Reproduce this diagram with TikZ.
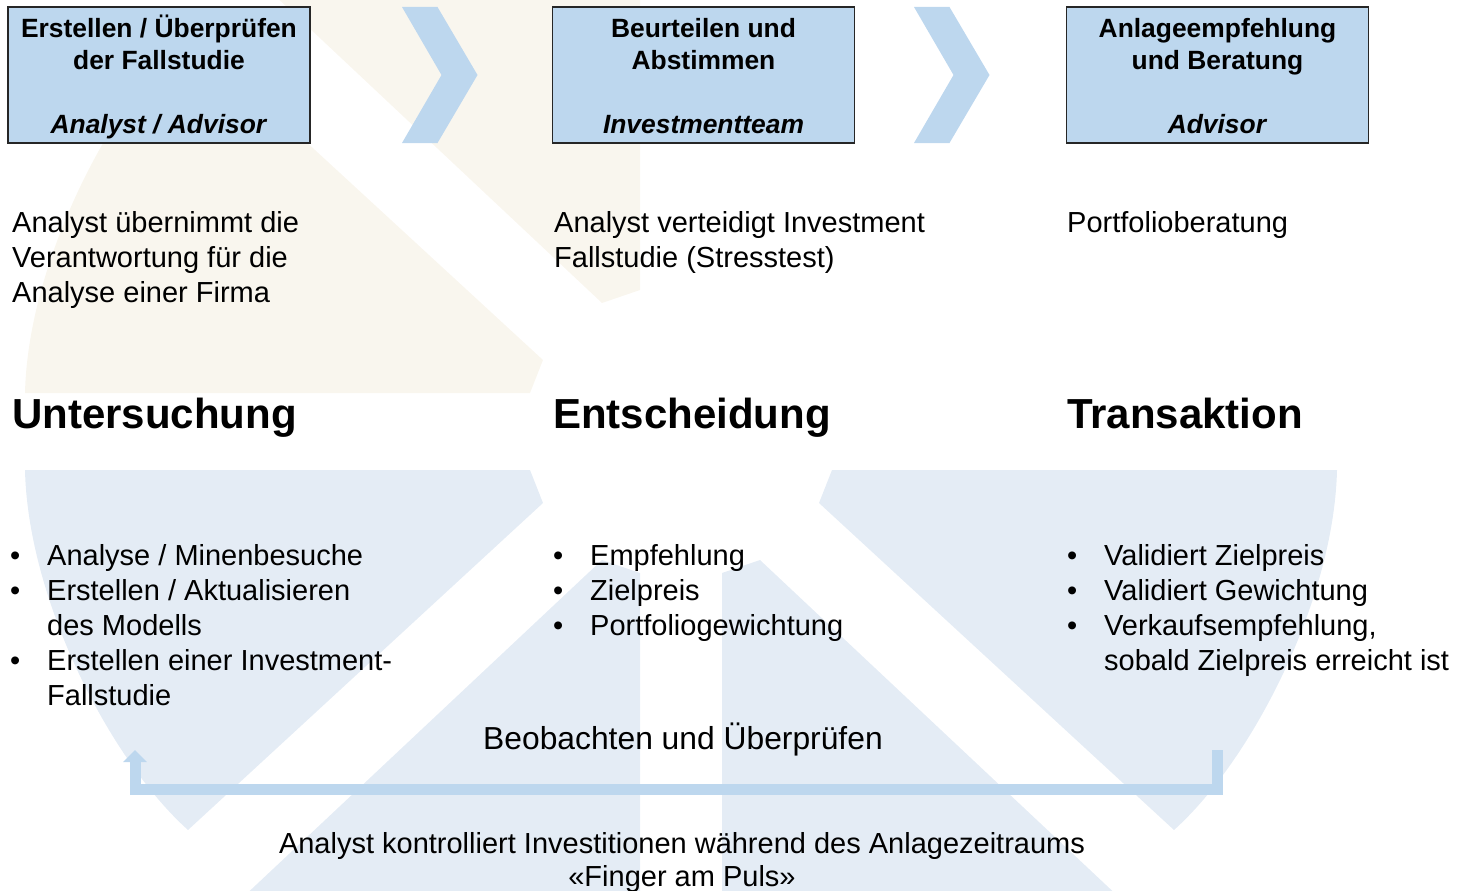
\documentclass[tikz,border=0pt]{standalone}
\usepackage{fontspec}
\setmainfont{Liberation Sans}
\usetikzlibrary{arrows.meta}
\definecolor{boxblue}{RGB}{189,215,238}
\definecolor{wmblue}{RGB}{228,236,245}
\definecolor{wmbeige}{RGB}{249,246,238}

\begin{document}
\begin{tikzpicture}[x=1pt, y=-1pt,
    phasebox/.style={draw=black!85, line width=1.3pt, fill=boxblue, minimum width=302pt, minimum height=136pt, inner sep=0pt},
    boxtitle/.style={anchor=base, inner sep=0pt, font=\fontsize{26.4}{32}\selectfont\bfseries},
    body/.style={anchor=base west, inner sep=0pt, font=\fontsize{29}{35}\selectfont},
    head/.style={anchor=base west, inner sep=0pt, font=\fontsize{42}{50}\selectfont\bfseries},
    midtext/.style={anchor=base, inner sep=0pt, font=\fontsize{31.8}{38}\selectfont},
    note/.style={anchor=base, inner sep=0pt, font=\fontsize{29}{33.5}\selectfont},
    chev/.style={fill=boxblue},
    backline/.style={draw=boxblue, line width=11pt, -{Triangle[width=23pt,length=12pt]}}]
    \useasboundingbox (0,0) rectangle (1457,891);

    % watermark
    \begin{scope}
      \clip (0,0) rectangle (1457,891);
      \fill[wmbeige] (25,393) -- (530,393) -- (543,360) -- (188,33) .. controls (110,103) and (28,263) .. (25,393) -- cycle;
      \fill[wmbeige] (640,290) -- (602,303) -- (240,-37) -- (640,-37) -- cycle;
      \fill[wmblue] (25,470) -- (530,470) -- (543,503) -- (188,830) .. controls (110,760) and (28,600) .. (25,470) -- cycle;
      \fill[wmblue] (1337,470) -- (832,470) -- (819,503) -- (1174,830) .. controls (1252,760) and (1334,600) .. (1337,470) -- cycle;
      \fill[wmblue] (640,573) -- (602,560) -- (240,900) -- (640,900) -- cycle;
      \fill[wmblue] (722,573) -- (760,560) -- (1122,900) -- (722,900) -- cycle;
    \end{scope}

    \foreach \cx in {402,914}
      \fill[chev] (\cx,7) -- ++(35.5,0) -- ++(40,68) -- ++(-40,68) -- ++(-35.5,0) -- ++(39.5,-68) -- cycle;

    \node[phasebox] (box1) at (159,75) {};
    \node[phasebox] (box2) at (703.5,75) {};
    \node[phasebox] (box3) at (1217.5,75) {};

    \node[boxtitle] (title1) at ([yshift=-31pt]box1.north) {\begin{tabular}[t]{@{}c@{}}Erstellen / Überprüfen\\der Fallstudie\\ \\\textit{Analyst / Advisor}\end{tabular}};
    \node[boxtitle] (title2) at ([yshift=-31pt]box2.north) {\begin{tabular}[t]{@{}c@{}}Beurteilen und\\Abstimmen\\ \\\textit{Investmentteam}\end{tabular}};
    \node[boxtitle] (title3) at ([yshift=-31pt]box3.north) {\begin{tabular}[t]{@{}c@{}}Anlageempfehlung\\und Beratung\\ \\\textit{Advisor}\end{tabular}};

    \node[body] (role1) at (12,232) {\begin{tabular}[t]{@{}l@{}}Analyst übernimmt die\\Verantwortung für die\\Analyse einer Firma\end{tabular}};
    \node[body] (role2) at (554,232) {\begin{tabular}[t]{@{}l@{}}Analyst verteidigt Investment\\Fallstudie (Stresstest)\end{tabular}};
    \node[body] (role3) at (1067,232) {Portfolioberatung};

    \node[head] (phase1) at (12,428) {Untersuchung};
    \node[head] (phase2) at (553,428) {Entscheidung};
    \node[head] (phase3) at (1067,428) {Transaktion};

    \node[body] (list1) at (10,565) {\begin{tabular}[t]{@{}p{37pt}@{}l@{}}•&Analyse / Minenbesuche\\•&Erstellen / Aktualisieren\\&des Modells\\•&Erstellen einer Investment-\\&Fallstudie\end{tabular}};
    \node[body] (list2) at (553,565) {\begin{tabular}[t]{@{}p{37pt}@{}l@{}}•&Empfehlung\\•&Zielpreis\\•&Portfoliogewichtung\end{tabular}};
    \node[body] (list3) at (1067,565) {\begin{tabular}[t]{@{}p{37pt}@{}l@{}}•&Validiert Zielpreis\\•&Validiert Gewichtung\\•&Verkaufsempfehlung,\\&sobald Zielpreis erreicht ist\end{tabular}};

    \node[midtext] (watch) at (683,749) {Beobachten und Überprüfen};
    \node[note] (control) at (682,853) {\begin{tabular}[t]{@{}c@{}}Analyst kontrolliert Investitionen während des Anlagezeitraums\\«Finger am Puls»\end{tabular}};

    \coordinate (loopR) at (1217,750);
    \coordinate (loopL) at (135,750);
    \coordinate (loopbase) at (0,789.5);
    \draw[backline] (loopR) -- (loopR |- loopbase) -- (loopL |- loopbase) -- (loopL);
\end{tikzpicture}
\end{document}
